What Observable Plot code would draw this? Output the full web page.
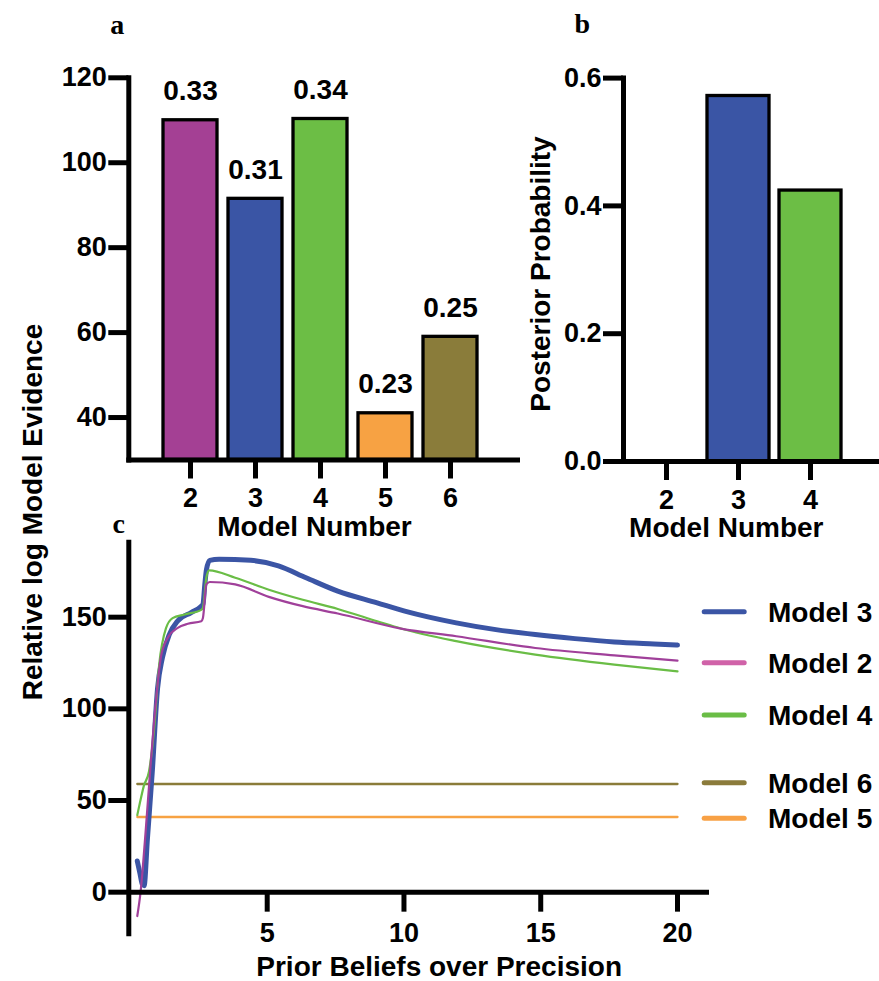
<!DOCTYPE html>
<html>
<head>
<meta charset="utf-8">
<script src="https://cdn.jsdelivr.net/npm/d3@7"></script>
<script src="https://cdn.jsdelivr.net/npm/@observablehq/plot@0.6"></script>
<style>
  html, body { margin: 0; padding: 0; background: #fff; }
  #wrap { width: 879px; height: 981px; }
</style>
</head>
<body>
<div id="wrap"></div>
<script>
// ---------- Panel a: log model evidence ----------
const barModels = [2, 3, 4, 5, 6];
const logEvidence = [110, 91.5, 110.3, 41, 59];
const evidenceLabels = ["0.33", "0.31", "0.34", "0.23", "0.25"];
const barColors = ["#A44094", "#3A55A5", "#6CBE45", "#F7A243", "#8A7C3A"];
const yTicksA = [40, 60, 80, 100, 120];

// ---------- Panel b: posterior probability ----------
const postModels = [2, 3, 4];
const postProb = [0, 0.572, 0.424];
const postColors = ["#A44094", "#3A55A5", "#6CBE45"];
const yTicksB = [0, 0.2, 0.4, 0.6];

// ---------- Panel c: evidence vs prior beliefs over precision ----------
const m3x = [0.25, 0.35, 0.43, 0.5, 0.62, 0.8, 0.99, 1.17, 1.42, 1.73, 2.22, 2.59, 2.65, 2.72, 2.78, 2.9, 3.24, 4.4, 5.41, 6.42, 7.58, 9.02, 10.03, 11.91, 13.36, 14.8, 16.25, 17.69, 19.14, 20];
const m3y = [17, 10, 4.5, 3.5, 29, 66, 111, 128, 140.5, 148, 152.5, 156, 157, 168, 176, 181, 181.6, 181, 178, 171.5, 164.2, 157.8, 153.3, 146.9, 143.2, 140.5, 138.3, 136.5, 135.4, 134.8];
const m2x = [0.25, 0.37, 0.55, 0.74, 0.93, 1.11, 1.36, 1.73, 2.1, 2.59, 2.65, 2.78, 2.9, 3.83, 5.06, 6.3, 7.58, 9.89, 11.91, 14.8, 17.69, 20];
const m2y = [-13, 0, 32, 70, 104, 128, 138.7, 144.2, 146.4, 147.8, 149.6, 168, 169.2, 167.9, 161.1, 156, 152, 143.8, 139.6, 133.2, 129.2, 126.3];
const m4x = [0.25, 0.35, 0.49, 0.68, 0.86, 1.05, 1.3, 1.54, 1.98, 2.59, 2.65, 2.78, 2.88, 3.83, 5.06, 6.3, 7.58, 9.02, 9.89, 11.91, 14.8, 17.69, 20];
const m4y = [42, 49, 58, 66, 88, 124, 144, 149.5, 151.5, 154, 155, 172, 175.5, 171.5, 165, 159.5, 154.5, 147.8, 143.8, 136.9, 129.6, 124.1, 120.4];
const m6x = [0.25, 20];
const m6y = [59, 59];
const m5x = [0.25, 20];
const m5y = [41, 41];
const xTicksC = [5, 10, 15, 20];
const yTicksC = [0, 50, 100, 150];

const legendNames = ["Model 3", "Model 2", "Model 4", "Model 6", "Model 5"];
const legendColors = ["#3B55A5", "#D062A8", "#6ABD46", "#8B7B3B", "#F8A145"];
const legendRows = [611.7, 662.7, 715, 782.7, 818.3];

const font = "'Liberation Sans', Arial, sans-serif";
const serif = "'Liberation Serif', 'Times New Roman', serif";
const svgStyle = `background:transparent;overflow:visible;font-family:${font};color:#000;`;

// One page-sized SVG; each Plot's content is moved into a translated group.
const root = d3.select("#wrap").append("svg")
  .attr("width", 879).attr("height", 981).attr("viewBox", "0 0 879 981")
  .style("display", "block").style("background", "#fff")
  .attr("font-family", font).attr("color", "#000");

function place(plotSvg, left, top) {
  const g = root.append("g").attr("transform", `translate(${left},${top})`).node();
  for (const a of Array.from(plotSvg.attributes)) {
    if (["width", "height", "viewBox", "style", "class"].includes(a.name) || a.name.startsWith("xmlns")) continue;
    g.setAttribute(a.name, a.value);
  }
  g.setAttribute("font-family", font);
  g.setAttribute("fill", "#000");
  while (plotSvg.firstChild) g.appendChild(plotSvg.firstChild);
}

const axisText = {fontSize: 27, fontWeight: "bold", fill: "black", stroke: "black", strokeWidth: 5, label: null};
const title = {fontSize: 28, fontWeight: "bold", fill: "black", textAnchor: "middle", lineAnchor: "middle"};
const letter = {fontFamily: serif, fontSize: 28, fontWeight: "bold", fill: "black", textAnchor: "middle", lineAnchor: "middle"};

// Panel a
const dataA = barModels.map((m, i) => ({model: m, value: logEvidence[i], base: 30, label: evidenceLabels[i]}));
const plotA = Plot.plot({
  width: 520, height: 545,
  marginLeft: 128.3, marginRight: 3, marginTop: 77.3, marginBottom: 85.5,
  style: svgStyle,
  x: {type: "band", domain: barModels, range: [157.5, 482.5], paddingInner: 0.17, paddingOuter: 0.085, align: 0.5},
  y: {domain: [30, 120]},
  color: {domain: barModels, range: barColors},
  marks: [
    Plot.barY(dataA, {x: "model", y1: "base", y2: "value", fill: "model", stroke: "black", strokeWidth: 3.3}),
    Plot.text(dataA, {x: "model", y: "value", text: "label", dy: -29, fontSize: 28, fontWeight: "bold", fill: "black"}),
    Plot.frame({anchor: "left", stroke: "black", strokeWidth: 5, strokeLinecap: "square"}),
    Plot.frame({anchor: "bottom", stroke: "black", strokeWidth: 5, strokeLinecap: "square"}),
    Plot.axisY({ticks: yTicksA, tickSize: 20, tickPadding: 2, ...axisText}),
    Plot.axisX({tickSize: 19, tickPadding: 9, ...axisText}),
    Plot.text(["a"], {frameAnchor: "top-left", dx: -11.6, dy: -52.3, ...letter}),
    Plot.text(["Model Number"], {frameAnchor: "bottom", dx: -8.65, dy: 67.2, ...title})
  ]
});
place(plotA, 0, 0);

// Panel b
const dataB = postModels.map((m, i) => ({model: m, value: postProb[i]}));
const plotB = Plot.plot({
  width: 399, height: 545,
  marginLeft: 143, marginRight: 0, marginTop: 77.6, marginBottom: 84,
  style: svgStyle,
  x: {type: "band", domain: postModels, range: [150, 366], paddingInner: 0.14, paddingOuter: 0.07, align: 0.5},
  y: {domain: [0, 0.6]},
  color: {domain: postModels, range: postColors},
  marks: [
    Plot.barY(dataB, {x: "model", y: "value", fill: "model", stroke: "black", strokeWidth: 3.3}),
    Plot.frame({anchor: "left", stroke: "black", strokeWidth: 5, strokeLinecap: "square"}),
    Plot.frame({anchor: "bottom", stroke: "black", strokeWidth: 5, strokeLinecap: "square"}),
    Plot.axisY({ticks: yTicksB, tickFormat: ".1f", tickSize: 20, tickPadding: 2, ...axisText}),
    Plot.axisX({tickSize: 19, tickPadding: 9, ...axisText}),
    Plot.text(["b"], {frameAnchor: "top-left", dx: -41.3, dy: -53.6, ...letter}),
    Plot.text(["Model Number"], {frameAnchor: "bottom", dx: -25.2, dy: 66.5, ...title})
  ]
});
place(plotB, 480, 0);

// Panel c
const toPts = (xs, ys) => xs.map((x, i) => ({x, y: ys[i]}));
const plotC = Plot.plot({
  width: 879, height: 481,
  marginLeft: 128.3, marginRight: 170, marginTop: 41.7, marginBottom: 47.7,
  style: svgStyle,
  x: {domain: [-0.06, 21.17], axis: null},
  y: {domain: [-22.7, 190.9]},
  marks: [
    Plot.line(toPts(m6x, m6y), {x: "x", y: "y", stroke: "#8A7C3A", strokeWidth: 2.3}),
    Plot.line(toPts(m5x, m5y), {x: "x", y: "y", stroke: "#F7A243", strokeWidth: 2.3}),
    Plot.line(toPts(m3x, m3y), {x: "x", y: "y", stroke: "#3B55A5", strokeWidth: 5, curve: "monotone-x"}),
    Plot.line(toPts(m4x, m4y), {x: "x", y: "y", stroke: "#6ABD46", strokeWidth: 2.2, curve: "monotone-x"}),
    Plot.line(toPts(m2x, m2y), {x: "x", y: "y", stroke: "#A0409A", strokeWidth: 2.2, curve: "monotone-x"}),
    Plot.ruleY([0], {stroke: "black", strokeWidth: 5}),
    Plot.frame({anchor: "left", stroke: "black", strokeWidth: 5}),
    Plot.ruleX(xTicksC, {x: d => d, y1: 0, y2: -10.9, stroke: "black", strokeWidth: 5}),
    Plot.text(xTicksC, {x: d => d, y: 0, dy: 41, text: d => String(d), fontSize: 27, fontWeight: "bold", fill: "black"}),
    Plot.axisY({ticks: yTicksC, tickSize: 20, tickPadding: 2, ...axisText}),
    Plot.text(["c"], {frameAnchor: "top-left", dx: -10, dy: -18.4, ...letter}),
    Plot.text(["Prior Beliefs over Precision"], {frameAnchor: "bottom", dx: 20, dy: 33.4, ...title})
  ]
});
place(plotC, 0, 500);

// Rotated axis titles
function ytitle(text, cx, cy) {
  root.append("text")
    .attr("transform", `translate(${cx},${cy}) rotate(-90)`)
    .attr("text-anchor", "middle").attr("dy", "0.35em")
    .attr("font-size", 28).attr("font-weight", "bold").attr("fill", "#000")
    .text(text);
}
ytitle("Relative log Model Evidence", 31.7, 512);
ytitle("Posterior Probability", 540, 274);

// Legend for panel c
const leg = root.append("g");
legendNames.forEach((name, i) => {
  leg.append("line")
    .attr("x1", 704.2).attr("x2", 744.2)
    .attr("y1", legendRows[i]).attr("y2", legendRows[i])
    .attr("stroke", legendColors[i]).attr("stroke-width", 5).attr("stroke-linecap", "round");
  leg.append("text")
    .attr("x", 768).attr("y", legendRows[i]).attr("dy", "0.35em")
    .attr("font-size", 28).attr("font-weight", "bold").attr("fill", "#000")
    .text(name);
});
</script>
</body>
</html>
